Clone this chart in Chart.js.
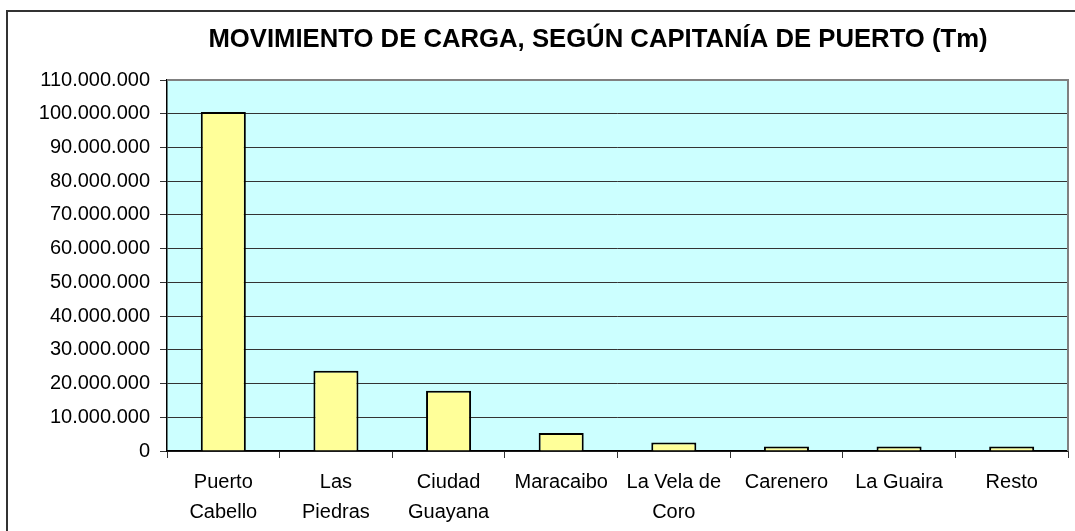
<!DOCTYPE html>
<html>
<head>
<meta charset="utf-8">
<script src="https://cdn.jsdelivr.net/npm/chart.js@4"></script>
<style>
html,body{margin:0;padding:0;background:#fff;}
#wrap{position:relative;width:1075px;height:531px;}
</style>
</head>
<body>
<div id="wrap"><canvas id="c" width="1075" height="531"></canvas></div>
<script>
const categories = [['Puerto','Cabello'], ['Las','Piedras'], ['Ciudad','Guayana'], 'Maracaibo', ['La Vela de','Coro'], 'Carenero', 'La Guaira', 'Resto'];
const cargaTm = [100500000, 23800000, 17900000, 5300000, 2500000, 1350000, 1300000, 1300000];
const yTicks = [0, 10000000, 20000000, 30000000, 40000000, 50000000, 60000000, 70000000, 80000000, 90000000, 100000000, 110000000];
const titleText = 'MOVIMIENTO DE CARGA, SEGÚN CAPITANÍA DE PUERTO (Tm)';

function fmt(v){ return String(Math.round(v)).replace(/\B(?=(\d{3})+(?!\d))/g, '.'); }

const decor = {
  id: 'decor',
  beforeDraw(chart){
    const {ctx, chartArea:a} = chart;
    ctx.save();
    ctx.fillStyle = '#CCFFFF';
    ctx.fillRect(a.left, a.top, a.right - a.left, a.bottom - a.top);
    ctx.restore();
  },
  afterDraw(chart){
    const {ctx, chartArea:a} = chart;
    ctx.save();
    ctx.strokeStyle = '#808080';
    ctx.lineWidth = 2;
    ctx.beginPath();
    ctx.moveTo(a.left, a.top);
    ctx.lineTo(a.right, a.top);
    ctx.lineTo(a.right, a.bottom);
    ctx.stroke();
    ctx.strokeStyle = '#333';
    ctx.lineWidth = 2;
    ctx.beginPath();
    ctx.moveTo(7, 531);
    ctx.lineTo(7, 11);
    ctx.lineTo(1075, 11);
    ctx.stroke();
    ctx.fillStyle = '#000';
    ctx.font = "bold 25.7px 'Liberation Sans', Arial, sans-serif";
    ctx.textAlign = 'center';
    ctx.textBaseline = 'middle';
    ctx.fillText(titleText, 598, 40);
    ctx.restore();
  }
};

new Chart(document.getElementById('c'), {
  type: 'bar',
  data: {
    labels: categories,
    datasets: [{
      data: cargaTm,
      backgroundColor: '#FFFF99',
      borderColor: '#000',
      borderWidth: 2,
      barPercentage: 0.4,
      categoryPercentage: 1.0
    }]
  },
  plugins: [decor],
  options: {
    responsive: false,
    animation: false,
    devicePixelRatio: 1,
    layout: { padding: { left: 0, right: 7, top: 80, bottom: 0 } },
    plugins: {
      legend: { display: false },
      tooltip: { enabled: false },
      title: { display: false }
    },
    scales: {
      x: {
        offset: true,
        grid: { display: true, drawOnChartArea: false, drawTicks: true, tickLength: 7, color: '#333', offset: true },
        border: { display: true, color: '#000', width: 1.5 },
        ticks: {
          color: '#000',
          padding: 9,
          maxRotation: 0,
          autoSkip: false,
          font: { family: "'Liberation Sans', Arial, sans-serif", size: 20, lineHeight: 1.5 }
        },
        afterFit(scale){ scale.height = 80; }
      },
      y: {
        min: 0,
        max: 110000000,
        afterBuildTicks(scale){ scale.ticks = yTicks.map(v => ({ value: v })); },
        grid: { color: '#333', lineWidth: 1, drawTicks: true, tickLength: 7 },
        border: { display: true, color: '#000', width: 1.5 },
        ticks: {
          color: '#000',
          padding: 10,
          font: { family: "'Liberation Sans', Arial, sans-serif", size: 20 },
          callback: (v) => fmt(v)
        },
        afterFit(scale){ scale.width = 167; }
      }
    }
  }
});
</script>
</body>
</html>
